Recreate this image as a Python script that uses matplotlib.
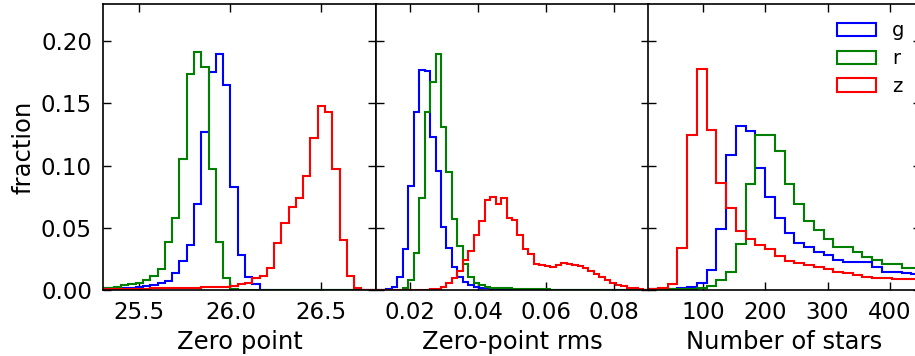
import numpy as np
import matplotlib
matplotlib.use("Agg")
import matplotlib.pyplot as plt

bands = ["g", "r", "z"]
band_colors = ["blue", "green", "red"]

# zero point histograms (fraction per bin)
zp_edges = np.linspace(25.2, 26.8, 41)
zp_g = [0.001, 0.0012, 0.0015, 0.0015, 0.0016, 0.0018, 0.002, 0.0025, 0.003, 0.004,
        0.0055, 0.0075, 0.014, 0.023, 0.036, 0.069, 0.127, 0.175, 0.190, 0.165,
        0.083, 0.028, 0.0107, 0.0045, 0, 0, 0, 0, 0, 0,
        0, 0, 0, 0, 0, 0, 0, 0, 0, 0]
zp_r = [0.0008, 0.001, 0.0013, 0.002, 0.0027, 0.0038, 0.0048, 0.006, 0.008, 0.011,
        0.017, 0.039, 0.058, 0.105, 0.174, 0.191, 0.179, 0.097, 0.039, 0.0099,
        0.0005, 0, 0, 0, 0, 0, 0, 0, 0, 0,
        0, 0, 0, 0, 0, 0, 0, 0, 0, 0]
zp_z = [0.0005, 0.0006, 0.0006, 0.0007, 0.0008, 0.0009, 0.001, 0.0011, 0.0012, 0.0013,
        0.0014, 0.0015, 0.0016, 0.0017, 0.0018, 0.002, 0.0021, 0.0023, 0.0025, 0.0028,
        0.0032, 0.0046, 0.006, 0.0094, 0.011, 0.018, 0.038, 0.054, 0.067, 0.074,
        0.092, 0.122, 0.148, 0.143, 0.097, 0.040, 0.011, 0.002, 0, 0]

# zero-point rms histograms
rms_edges = np.linspace(0.01, 0.09, 51)
rms_g = [0, 0, 0.0005, 0.0027, 0.0107, 0.0327, 0.084, 0.143, 0.1766, 0.1758,
         0.1227, 0.0953, 0.0505, 0.0335, 0.0188, 0.0102, 0.0067, 0.004, 0.0027, 0.002,
         0.0013, 0.0008, 0.0005, 0.0004, 0.0003, 0.0002, 0.0002, 0.0001, 0.0001, 0.0001,
         0, 0, 0, 0, 0, 0, 0, 0, 0, 0,
         0, 0, 0, 0, 0, 0, 0, 0, 0, 0]
rms_r = [0, 0, 0, 0, 0.0003, 0.0013, 0.008, 0.0295, 0.0738, 0.1428,
         0.167, 0.190, 0.131, 0.0945, 0.057, 0.035, 0.021, 0.0102, 0.0054, 0.0038,
         0.0027, 0.002, 0.0017, 0.0015, 0.0013, 0.0011, 0.001, 0.0009, 0.0008, 0.0007,
         0.0006, 0.0005, 0.0004, 0.0004, 0.0003, 0.0003, 0.0002, 0.0002, 0.0001, 0.0001,
         0.0001, 0, 0, 0, 0, 0, 0, 0, 0, 0]
rms_z = [0, 0, 0, 0, 0, 0, 0, 0, 0, 0.0003,
         0.0006, 0.0012, 0.0025, 0.0055, 0.0095, 0.0156, 0.024, 0.031, 0.0446, 0.0558,
         0.072, 0.0746, 0.0692, 0.0738, 0.0577, 0.0564, 0.0443, 0.033, 0.029, 0.021,
         0.0205, 0.019, 0.0185, 0.020, 0.0215, 0.021, 0.020, 0.0195, 0.0175, 0.0155,
         0.013, 0.0105, 0.008, 0.006, 0.0042, 0.003, 0.002, 0.0013, 0.0007, 0.0003]

# number of stars histograms
nstar_edges = np.linspace(12, 450, 29)
nstar_g = [0.0008, 0.001, 0.0012, 0.0016, 0.0027, 0.0059, 0.0161, 0.0488, 0.1082, 0.1318,
           0.1275, 0.098, 0.0745, 0.058, 0.0459, 0.0376, 0.0349, 0.0302, 0.0282, 0.0242,
           0.0228, 0.0223, 0.0223, 0.0186, 0.0147, 0.0147, 0.0135, 0.0128]
nstar_r = [0.0005, 0.0006, 0.0008, 0.001, 0.0012, 0.0018, 0.003, 0.008, 0.0148, 0.0368,
           0.0855, 0.125, 0.125, 0.112, 0.0855, 0.0695, 0.0558, 0.048, 0.0408, 0.0349,
           0.0349, 0.0305, 0.0268, 0.0242, 0.0212, 0.0212, 0.018, 0.018]
nstar_z = [0.001, 0.0018, 0.0047, 0.034, 0.125, 0.178, 0.129, 0.0864, 0.0663, 0.0478,
           0.0407, 0.0365, 0.033, 0.0274, 0.0235, 0.0219, 0.0198, 0.0181, 0.0165, 0.0147,
           0.0134, 0.0122, 0.0108, 0.0096, 0.0095, 0.0092, 0.0086, 0.0086]

panels = [
    (zp_edges, [zp_g, zp_r, zp_z], "Zero point", (25.3, 26.8), [25.5, 26.0, 26.5]),
    (rms_edges, [rms_g, rms_r, rms_z], "Zero-point rms", (0.01, 0.09), [0.02, 0.04, 0.06, 0.08]),
    (nstar_edges, [nstar_g, nstar_r, nstar_z], "Number of stars", (12, 450), [100, 200, 300, 400]),
]

W, H = 915, 356
fig = plt.figure(figsize=(W / 100, H / 100), dpi=100)
plt.rcParams["font.family"] = ["DejaVu Sans"]

lefts = [103, 375.5, 648]
pw = 273
axes = []
for i, (edges, vals, xlabel, xlim, xticks) in enumerate(panels):
    ax = fig.add_axes([lefts[i] / W, 66 / H, pw / W, 286 / H])
    centers = 0.5 * (edges[:-1] + edges[1:])
    for band, col, v in zip(bands, band_colors, vals):
        ax.hist(centers, bins=edges, weights=v, histtype="step", color=col, lw=1.5, label=band)
    ax.set_xlim(*xlim)
    ax.set_ylim(0, 0.23)
    ax.set_xticks(xticks)
    ax.set_yticks([0.0, 0.05, 0.10, 0.15, 0.20])
    ax.tick_params(direction="in", length=6, width=1, top=True, right=True,
                   labelsize=16.5, pad=8)
    for s in ax.spines.values():
        s.set_linewidth(1.2)
    ax.set_xlabel(xlabel, fontsize=17.5, labelpad=4.5)
    if i > 0:
        ax.tick_params(labelleft=False)
    axes.append(ax)

axes[0].set_ylabel("fraction", fontsize=17.5, labelpad=4)
axes[0].yaxis.set_major_formatter(matplotlib.ticker.FormatStrFormatter("%.2f"))

axes[2].legend(loc="upper left", bbox_to_anchor=(829.6 / W, 1 - 13.7 / H),
               bbox_transform=fig.transFigure, frameon=False, fontsize=14,
               handlelength=2.0, handleheight=0.69, labelspacing=0.45,
               handletextpad=0.8, borderaxespad=0)

fig.savefig("out.png", dpi=100)
